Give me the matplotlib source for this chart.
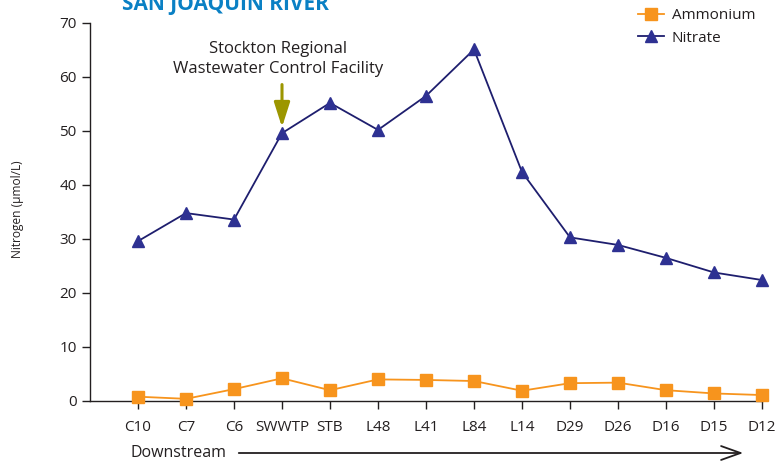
import matplotlib
matplotlib.use("Agg")
import matplotlib.pyplot as plt

sites = ["C10", "C7", "C6", "SWWTP", "STB", "L48", "L41", "L84", "L14",
         "D29", "D26", "D16", "D15", "D12"]
nitrate = [29.6, 34.8, 33.6, 49.6, 55.2, 50.2, 56.5, 65.1, 42.4,
           30.3, 28.9, 26.5, 23.8, 22.4]
ammonium = [0.8, 0.4, 2.2, 4.2, 2.0, 4.0, 3.9, 3.7, 1.9,
            3.3, 3.4, 2.0, 1.4, 1.1]
yticks = [0, 10, 20, 30, 40, 50, 60, 70]

plt.rcParams['font.family'] = ['Open Sans', 'DejaVu Sans']

fig = plt.figure(figsize=(7.83, 4.67), dpi=100)
W, H = 783, 467
ax = fig.add_axes([90 / W, (H - 401) / H, (762 - 90) / W, (401 - 23) / H])

x = list(range(len(sites)))
ax.plot(x, ammonium, color="#f7941d", marker="s", markersize=8, lw=1.3,
        label="Ammonium", clip_on=False, zorder=3)
ax.plot(x, nitrate, color="#1e1e6e", marker="^", markersize=8, lw=1.3,
        markerfacecolor="#2e3192", markeredgecolor="#2e3192",
        label="Nitrate", clip_on=False, zorder=3)

ax.set_xlim(-1, 13)
ax.set_ylim(0, 70)
ax.set_xticks(x)
ax.set_xticklabels(sites, fontsize=11, color="#231f20")
ax.set_yticks(yticks)
ax.set_yticklabels([str(v) for v in yticks], fontsize=11, color="#231f20")
for s in ["top", "right"]:
    ax.spines[s].set_visible(False)
for s in ["left", "bottom"]:
    ax.spines[s].set_color("#231f20")
    ax.spines[s].set_linewidth(1.0)
ax.tick_params(axis="both", direction="out", length=6, width=1.0, color="#231f20")
ax.tick_params(axis="x", pad=8)
ax.set_ylabel("Nitrogen (µmol/L)", fontsize=8.6, color="#231f20",
              va="center", ha="center")
ax.yaxis.set_label_coords((18 - 90) / (762 - 90), (401 - 209) / (401 - 23))

leg = ax.legend(loc="upper left", bbox_to_anchor=(638 / W, (H - 8) / H),
                bbox_transform=fig.transFigure, frameon=False, fontsize=11,
                handlelength=1.7, handletextpad=0.5, labelspacing=0.5,
                borderaxespad=0, borderpad=0)
for t in leg.get_texts():
    t.set_color("#231f20")

fig.text(225 / W, (H - 10) / H, "SAN JOAQUIN RIVER", fontsize=15,
         fontweight="bold", color="#0a80c4", ha="center", va="baseline")

fig.text(278 / W, (H - 59) / H, "Stockton Regional\nWastewater Control Facility",
         fontsize=12, color="#231f20", ha="center", va="center",
         linespacing=1.32)
ax.annotate("", xy=(3, 50.7), xytext=(3, 58.6),
            arrowprops=dict(arrowstyle="-|>,head_width=0.24,head_length=0.75",
                            color="#9c9600", lw=2.2, shrinkA=0, shrinkB=0,
                            mutation_scale=20))

fig.text(130 / W, (H - 453) / H, "Downstream", fontsize=11.5,
         color="#231f20", ha="left", va="center")
fig.add_artist(matplotlib.patches.FancyArrowPatch(
    (236 / W, (H - 453) / H), (746 / W, (H - 453) / H),
    transform=fig.transFigure, arrowstyle="->,head_width=0.25,head_length=0.7",
    color="#231f20", lw=1.3, mutation_scale=20))

fig.savefig("out.png", dpi=100)
